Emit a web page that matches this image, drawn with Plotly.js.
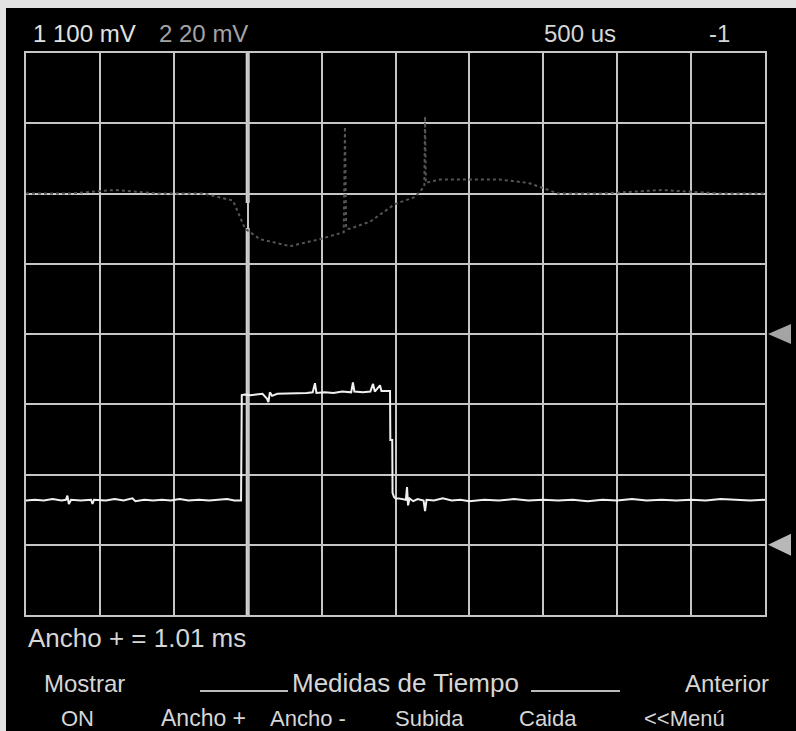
<!DOCTYPE html>
<html>
<head>
<meta charset="utf-8">
<script src="https://cdn.plot.ly/plotly-3.0.1.min.js"></script>
<style>
html,body{margin:0;padding:0;background:#fff;}
#chart{width:796px;height:731px;}
</style>
</head>
<body>
<div id="chart"></div>
<script>
// ---- Data (time in µs relative to trigger, 500 µs/div) ----
// Channel 1 (100 mV/div)
const ch1Time = [-1500,-1440,-1380,-1320,-1260,-1230,-1220,-1210,-1195,-1130,-1060,-1050,-1040,-960,-900,-840,-780,-760,-700,-640,-580,-520,-460,-400,-330,-260,-200,-140,-90,-45,
  -40,-20,20,60,100,130,140,150,165,200,250,300,350,400,440,455,465,520,580,640,700,712,722,780,830,848,860,895,905,940,963,
  965,978,980,990,1000,1020,1070,1078,1085,1095,1120,1150,1190,1200,1210,1260,1320,1380,1440,1500,
  1600,1700,1800,1900,2000,2100,2200,2300,2400,2500,2600,2700,2800,2900,3000,3100,3200,3300,3400,3500];
const ch1Value = [63,64,63,65,63,64,70,58,64,63,64,58,64,63,65,63,66,62,64,63,64,63,65,63,64,63,64,65,63,63,
  213,214,213,214,215,208,203,217,212,215,215,216,215,216,217,230,216,217,216,218,217,231,218,217,218,229,218,227,219,219,219,
  149,149,74,68,66,66,64,82,56,66,62,65,63,48,64,63,66,63,64,62,
  64,63,65,63,64,63,64,62,64,63,65,63,64,63,64,63,65,64,63,64];

// Channel 2 (20 mV/div)
const ch2Time = [-1500,-1200,-900,-600,-300,-100,-18,83,286,489,650,658,666,692,828,997,1132,1195,1200,1205,1300,1500,1700,1900,2100,2400,2800,3200,3500];
const ch2Value = [40,40,41,40,40,38,30,27,25,27,29,59,30,30,32,37,39,42,62,43,44,44,44,43,40,40,41,40,40];

// Readouts
const ch1Label = "1 100 mV";
const ch2Label = "2 20 mV";
const timebaseLabel = "500 us";
const triggerLabel = "-1";
const measureLabel = "Ancho + = 1.01 ms";
const menuTitle = "Medidas de Tiempo";
const softkeysTop = ["Mostrar", "Anterior"];
const softkeysBottom = ["ON", "Ancho +", "Ancho -", "Subida", "Caida", "<<Menú"];

// ---- helpers to place layout items in screen pixels ----
const L = 26, R = 765, T = 53, B = 615;
const W = R - L, H = B - T;
const px = x => (x - L) / W;
const py = y => (B - y) / H;

const grid = '#c6c6c6';
const txt = '#d6d6d6';
const font = 'Liberation Sans, Arial, sans-serif';

function ann(text, x, y, size, color) {
  return {
    text: text, xref: 'paper', yref: 'paper', x: px(x), y: py(y),
    xanchor: 'left', yanchor: 'middle', showarrow: false,
    font: {family: font, size: size || 24, color: color || txt}
  };
}

const traces = [
  {x: ch2Time, y: ch2Value, yaxis: 'y2', mode: 'lines',
   line: {color: '#555555', width: 2, dash: 'dot'}, hoverinfo: 'skip'},
  {x: ch1Time, y: ch1Value, yaxis: 'y', mode: 'lines',
   line: {color: '#f0f0f0', width: 2}, hoverinfo: 'skip'}
];

const annotations = [
  ann(ch1Label, 31, 34, 24, '#e2e2e2'),
  ann(ch2Label, 157, 34, 24, '#a4a4a4'),
  ann(timebaseLabel, 542, 34, 24),
  ann(triggerLabel, 707, 34, 24),
  ann(measureLabel, 26, 638, 26),
  ann(softkeysTop[0], 42, 683, 24),
  ann(menuTitle, 290, 683, 26),
  ann(softkeysTop[1], 683, 683, 24),
  ann(softkeysBottom[0], 59, 718, 22),
  ann(softkeysBottom[1], 159, 718, 23),
  ann(softkeysBottom[2], 268, 718, 22),
  ann(softkeysBottom[3], 393, 718, 22),
  ann(softkeysBottom[4], 517, 718, 22),
  ann(softkeysBottom[5], 642, 718, 22)
];

const shapes = [
  // outer white frame strips
  {type: 'rect', xref: 'paper', yref: 'paper', x0: px(0), x1: px(6), y0: py(731), y1: py(0),
   fillcolor: '#e2e2e2', line: {width: 0}, layer: 'above'},
  {type: 'rect', xref: 'paper', yref: 'paper', x0: px(0), x1: px(796), y0: py(8), y1: py(0),
   fillcolor: '#e2e2e2', line: {width: 0}, layer: 'above'},
  // menu title rules
  {type: 'line', xref: 'paper', yref: 'paper', x0: px(200), x1: px(288), y0: py(691), y1: py(691),
   line: {color: '#bcbcbc', width: 2}},
  {type: 'line', xref: 'paper', yref: 'paper', x0: px(531), x1: px(620), y0: py(691), y1: py(691),
   line: {color: '#bcbcbc', width: 2}},
  // trigger cursor line at t = 0
  {type: 'line', xref: 'x', yref: 'paper', x0: 0, x1: 0, y0: 0, y1: py(228),
   line: {color: '#d4d4d4', width: 4}, layer: 'below'},
  {type: 'line', xref: 'x', yref: 'paper', x0: 0, x1: 0, y0: py(203), y1: 1,
   line: {color: '#d4d4d4', width: 4}, layer: 'below'},
  // channel ground markers (right edge)
  {type: 'path', xref: 'paper', yref: 'y', xsizemode: 'pixel', ysizemode: 'pixel',
   xanchor: 1, yanchor: 0, path: 'M 3 0 L 26 11 L 26 -11 Z',
   fillcolor: '#b8b8b8', line: {width: 0}},
  {type: 'path', xref: 'paper', yref: 'y2', xsizemode: 'pixel', ysizemode: 'pixel',
   xanchor: 1, yanchor: 0, path: 'M 3 0 L 26 10 L 26 -10 Z',
   fillcolor: '#a4a4a4', line: {width: 0}}
];

const axisCommon = {
  showgrid: true, gridcolor: grid, gridwidth: 2, zeroline: false,
  showticklabels: false, ticks: '', showline: true, mirror: true,
  linecolor: grid, linewidth: 2, fixedrange: true
};

const layout = {
  width: 796, height: 731,
  margin: {l: L, r: 796 - R, t: T, b: 731 - B, pad: 0},
  paper_bgcolor: '#000', plot_bgcolor: '#000',
  showlegend: false,
  font: {family: font, color: txt},
  xaxis: Object.assign({}, axisCommon, {range: [-1500, 3500], tick0: -1500, dtick: 500}),
  yaxis: Object.assign({}, axisCommon, {range: [-100, 700], tick0: -100, dtick: 100}),
  yaxis2: {overlaying: 'y', range: [-80, 80], showgrid: false, zeroline: false,
           showticklabels: false, ticks: '', showline: false, fixedrange: true},
  annotations: annotations,
  shapes: shapes
};

Plotly.newPlot('chart', traces, layout, {staticPlot: true, displayModeBar: false});
</script>
</body>
</html>
